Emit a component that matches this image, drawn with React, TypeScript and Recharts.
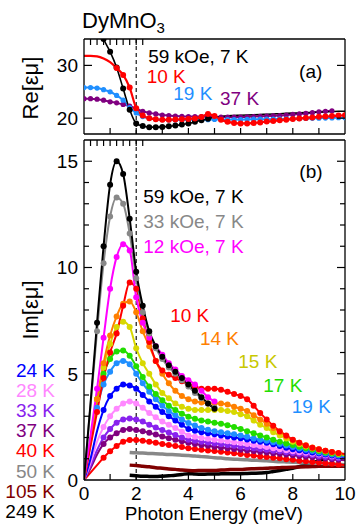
import React from 'react';
import { ComposedChart, Line, XAxis, YAxis, ReferenceLine, ReferenceDot } from 'recharts';

const FONT = '"Liberation Sans", Arial, Helvetica, sans-serif';

// Photon energy grid (meV)
const X_MEV = [0, 0.25, 0.5, 0.75, 1, 1.25, 1.5, 1.75, 2, 2.25, 2.5, 2.75, 3, 3.25, 3.5, 3.75, 4, 4.25, 4.5, 4.75, 5,
  5.25, 5.5, 5.75, 6, 6.25, 6.5, 6.75, 7, 7.25, 7.5, 7.75, 8, 8.25, 8.5, 8.75, 9, 9.25, 9.5, 9.75, 10];

// Panel (a): Re[εμ]
const RE_59KOE = [null, null, 38.5, 35.0, 32.6, 29.6, 25.6, 21.6, 19.0, 18.5, 18.3, 18.3, 18.35, 18.45, 18.6, 18.8, 19.0, 19.3, 19.6, 19.9, 20.2,
  20.35, 20.45, 20.5, 20.55, 20.6, 20.65, 20.7, 20.75, 20.8, 20.85, 20.9, 20.95, 21.0, 21.05, 21.1, 21.15, 21.2, 21.25, 21.3, 21.3];
const RE_10K = [31.8, 31.8, 31.7, 31.3, 30.6, 29.5, 28.2, 25.8, 21.9, 20.5, 20.0, 19.8, 19.7, 19.7, 19.75, 19.8, 19.85, 19.95, 20.2, 20.8, 20.4,
  19.7, 19.3, 19.1, 19.0, 19.0, 19.1, 19.2, 19.35, 19.45, 19.6, 19.7, 19.85, 19.95, 20.05, 20.15, 20.25, 20.3, 20.4, 20.5, 20.55];
const RE_19K = [25.8, 25.8, 25.7, 25.4, 25.0, 24.3, 23.4, 22.0, 21.0, 20.3, 20.0, 19.8, 19.7, 19.65, 19.65, 19.65, 19.7, 19.7, 19.7, 19.7, 19.75,
  19.75, 19.75, 19.75, 19.75, 19.78, 19.8, 19.8, 19.8, 19.82, 19.85, 19.87, 19.9, 19.92, 19.95, 19.97, 20.0, 20.02, 20.05, 20.08, 20.1];
const RE_37K = [23.7, 23.7, 23.6, 23.4, 23.1, 22.9, 22.6, 22.3, 21.8, 21.3, 21.0, 20.8, 20.6, 20.5, 20.4, 20.35, 20.3, 20.3, 20.3, 20.28, 20.25,
  20.22, 20.2, 20.2, 20.2, 20.25, 20.3, 20.35, 20.4, 20.45, 20.5, 20.6, 20.7, 20.8, 20.9, 21.05, 21.2, 21.3, 21.4, null, null];

// Panel (b): Im[εμ]
const IM_59KOE = [0, 3.6, 7.4, 11.0, 13.9, 15.0, 14.4, 12.3, 9.8, 8.2, 7.0, 6.3, 5.8, 5.4, 5.1, 4.8, 4.5, 4.2, 3.9, 3.6, 3.35,
  null, null, null, null, null, null, null, null, null, null, null, null, null, null, null, null, null, null, null, null];
const IM_33KOE = [0, 3.5, 7.0, 10.2, 12.4, 13.3, 13.0, 11.6, 9.5, 7.9, 6.9, 6.2, 5.7, 5.3, 5.0, 4.7, 4.4, 4.1, 3.85, 3.6, 3.4,
  null, null, null, null, null, null, null, null, null, null, null, null, null, null, null, null, null, null, null, null];
const IM_12KOE = [0, 2.1, 4.3, 6.7, 9.0, 10.5, 11.1, 10.8, 8.6, 7.4, 6.7, 6.3, 5.9, 5.5, 5.2, 4.9, 4.7, 4.5, 4.2, 3.9, 3.7,
  null, null, null, null, null, null, null, null, null, null, null, null, null, null, null, null, null, null, null, null];
const IM_10K = [0, 1.6, 3.2, 4.8, 6.0, 6.9, 8.2, 9.3, 9.0, 7.6, 6.5, 5.6, 5.15, 4.95, 4.8, 4.65, 4.5, 4.4, 4.3, 4.3, 4.3,
  4.25, 4.15, 4.05, 3.95, 3.8, 3.5, 3.15, 2.85, 2.55, 2.3, 2.1, 1.9, 1.75, 1.62, 1.52, 1.45, 1.38, 1.32, 1.27, 1.22];
const IM_14K = [0, 1.9, 3.8, 5.5, 6.8, 7.7, 8.3, 8.4, 7.9, 7.0, 6.3, 5.6, 5.0, 4.55, 4.2, 3.95, 3.8, 3.7, 3.65, 3.6, 3.6,
  3.6, 3.55, 3.45, 3.35, 3.25, 3.05, 2.85, 2.65, 2.45, 2.25, 2.05, 1.88, 1.75, 1.63, 1.53, 1.45, 1.38, 1.32, 1.26, 1.2];
const IM_15K = [0, 1.9, 3.8, 5.3, 6.4, 7.2, 7.45, 7.2, 6.2, 5.5, 5.0, 4.5, 4.1, 3.85, 3.6, 3.45, 3.35, 3.3, 3.3, 3.3, 3.3,
  3.3, 3.25, 3.2, 3.1, 3.0, 2.8, 2.6, 2.45, 2.25, 2.1, 1.95, 1.8, 1.68, 1.58, 1.5, 1.42, 1.35, 1.29, 1.23, 1.17];
const IM_17K = [0, 1.9, 3.8, 5.0, 5.7, 6.05, 6.1, 5.85, 5.35, 4.85, 4.4, 4.05, 3.75, 3.5, 3.3, 3.12, 2.98, 2.88, 2.8, 2.75, 2.7,
  2.65, 2.58, 2.5, 2.4, 2.3, 2.2, 2.1, 2.0, 1.9, 1.8, 1.72, 1.65, 1.57, 1.5, 1.43, 1.37, 1.3, 1.25, 1.2, 1.15];
const IM_19K = [0, 1.7, 3.4, 4.5, 5.1, 5.5, 5.6, 5.45, 5.0, 4.55, 4.15, 3.8, 3.5, 3.25, 3.05, 2.85, 2.68, 2.56, 2.45, 2.37, 2.3,
  2.25, 2.2, 2.15, 2.1, 2.03, 1.95, 1.9, 1.85, 1.78, 1.7, 1.62, 1.55, 1.48, 1.42, 1.36, 1.3, 1.25, 1.2, 1.15, 1.1];
const IM_24K = [0, 1.0, 2.3, 3.3, 3.95, 4.3, 4.5, 4.45, 4.3, 4.0, 3.7, 3.45, 3.2, 3.0, 2.8, 2.6, 2.4, 2.32, 2.25, 2.2, 2.15,
  2.1, 2.05, 2.0, 1.97, 1.91, 1.85, 1.8, 1.75, 1.68, 1.6, 1.52, 1.45, 1.4, 1.35, 1.3, 1.25, 1.2, 1.15, 1.11, 1.08];
const IM_28K = [0, 0.8, 1.8, 2.5, 3.0, 3.35, 3.6, 3.7, 3.6, 3.4, 3.15, 2.95, 2.75, 2.6, 2.45, 2.27, 2.1, 2.04, 1.98, 1.94, 1.9,
  1.86, 1.82, 1.78, 1.74, 1.7, 1.65, 1.6, 1.55, 1.5, 1.45, 1.4, 1.35, 1.31, 1.28, 1.24, 1.2, 1.16, 1.12, 1.08, 1.05];
const IM_33K = [0, 0.65, 1.4, 2.0, 2.4, 2.7, 2.85, 2.9, 2.85, 2.75, 2.6, 2.47, 2.35, 2.23, 2.12, 2.0, 1.9, 1.85, 1.8, 1.76, 1.72,
  1.68, 1.65, 1.61, 1.57, 1.53, 1.5, 1.46, 1.42, 1.38, 1.35, 1.31, 1.27, 1.23, 1.2, 1.16, 1.12, 1.08, 1.05, 1.02, 1.0];
const IM_37K = [0, 0.55, 1.2, 1.7, 2.0, 2.2, 2.35, 2.4, 2.35, 2.3, 2.22, 2.14, 2.05, 1.97, 1.9, 1.82, 1.75, 1.7, 1.65, 1.61, 1.57,
  1.53, 1.5, 1.46, 1.42, 1.39, 1.36, 1.33, 1.3, 1.26, 1.23, 1.2, 1.17, 1.13, 1.1, 1.07, 1.04, 1.01, 0.98, 0.95, 0.93];
const IM_40K = [0, 0.35, 0.7, 1.05, 1.35, 1.6, 1.8, 1.88, 1.88, 1.85, 1.8, 1.75, 1.7, 1.65, 1.6, 1.55, 1.5, 1.46, 1.42, 1.39, 1.36,
  1.33, 1.3, 1.26, 1.22, 1.18, 1.15, 1.11, 1.08, 1.05, 1.02, 0.98, 0.95, 0.91, 0.88, 0.85, 0.82, 0.79, 0.76, 0.73, 0.7];
const IM_50K = [null, null, null, null, null, null, null, 1.3, 1.28, 1.27, 1.25, 1.24, 1.22, 1.2, 1.19, 1.17, 1.15, 1.13, 1.1, 1.08, 1.05,
  1.03, 1.0, 0.98, 0.97, 0.95, 0.93, 0.92, 0.9, 0.88, 0.86, 0.85, 0.84, 0.82, 0.81, 0.8, 0.79, 0.78, 0.76, 0.74, 0.72];
const IM_105K = [null, null, null, null, null, null, null, 0.7, 0.68, 0.65, 0.62, 0.58, 0.55, 0.52, 0.5, 0.47, 0.45, 0.44, 0.45, 0.45, 0.45,
  0.47, 0.48, 0.5, 0.5, 0.52, 0.53, 0.54, 0.55, 0.57, 0.58, 0.59, 0.6, 0.61, 0.62, 0.63, 0.65, 0.65, 0.65, 0.65, 0.65];
const IM_249K = [null, null, null, null, null, null, null, 0.22, 0.2, 0.18, 0.17, 0.16, 0.18, 0.2, 0.22, 0.26, 0.3, 0.28, 0.27, 0.28, 0.28,
  0.29, 0.3, 0.3, 0.3, 0.31, 0.32, 0.33, 0.35, 0.4, 0.45, 0.5, 0.55, 0.63, 0.7, 0.8, 0.9, 1.0, 1.1, null, null];

// Ticks
const X_TICKS = [0, 1, 2, 3, 4, 5, 6, 7, 8, 9, 10];
const X_LABELS = [0, 2, 4, 6, 8, 10];
const RE_TICKS = [20, 30];
const IM_TICKS = [0, 1, 2, 3, 4, 5, 6, 7, 8, 9, 10, 11, 12, 13, 14, 15, 16];
const IM_MAJOR = [0, 5, 10, 15];

// Annotations (data coordinates)
const ANN_A = [
  { text: '59 kOe, 7 K', x: 2.46, y: 31.67, color: '#000000' },
  { text: '10 K', x: 2.4, y: 27.95, color: '#ff0000' },
  { text: '19 K', x: 3.42, y: 24.71, color: '#1f8fff' },
  { text: '37 K', x: 5.21, y: 23.76, color: '#800080' },
  { text: '(a)', x: 8.24, y: 28.88, color: '#000000' },
];
const ANN_B = [
  { text: '(b)', x: 8.25, y: 14.53, color: '#000000' },
  { text: '59 kOe, 7 K', x: 2.27, y: 13.34, color: '#000000' },
  { text: '33 kOe, 7 K', x: 2.27, y: 12.16, color: '#888888' },
  { text: '12 kOe, 7 K', x: 2.27, y: 10.98, color: '#ff00ff' },
  { text: '10 K', x: 3.3, y: 7.76, color: '#ff0000' },
  { text: '14 K', x: 4.44, y: 6.67, color: '#ff8000' },
  { text: '15 K', x: 5.91, y: 5.57, color: '#c8c800' },
  { text: '17 K', x: 6.87, y: 4.47, color: '#22dd00' },
  { text: '19 K', x: 7.96, y: 3.45, color: '#1f8fff' },
];
const LEFT_LEGEND = [
  { text: '24 K', color: '#0000ff' },
  { text: '28 K', color: '#ff88ff' },
  { text: '33 K', color: '#8822ee' },
  { text: '37 K', color: '#800080' },
  { text: '40 K', color: '#ff0000' },
  { text: '50 K', color: '#888888' },
  { text: '105 K', color: '#800000' },
  { text: '249 K', color: '#000000' },
];

type Series = { key: string; data: (number | null)[]; color: string; width: number; dot?: [number, number]; r?: number };

const SERIES_A: Series[] = [
  { key: 're37', data: RE_37K, color: '#800080', width: 2, dot: [0, 9.5], r: 2.6 },
  { key: 're19', data: RE_19K, color: '#1f8fff', width: 2, dot: [0, 10], r: 2.6 },
  { key: 're59', data: RE_59KOE, color: '#000000', width: 1.6, dot: [0.75, 4.75], r: 3 },
  { key: 're10', data: RE_10K, color: '#ff0000', width: 2.2, dot: [1.25, 10], r: 3 },
];

const SERIES_B: Series[] = [
  { key: 'i249', data: IM_249K, color: '#000000', width: 3.5 },
  { key: 'i105', data: IM_105K, color: '#800000', width: 3.5 },
  { key: 'i50', data: IM_50K, color: '#888888', width: 3.5 },
  { key: 'i40', data: IM_40K, color: '#ff0000', width: 2, dot: [0.75, 9.75], r: 3 },
  { key: 'i37', data: IM_37K, color: '#800080', width: 2, dot: [0.75, 9.75], r: 3 },
  { key: 'i33', data: IM_33K, color: '#8822ee', width: 2, dot: [0.75, 9.75], r: 3 },
  { key: 'i28', data: IM_28K, color: '#ff88ff', width: 2, dot: [0.75, 9.75], r: 3 },
  { key: 'i24', data: IM_24K, color: '#0000ff', width: 2, dot: [0.75, 9.75], r: 3 },
  { key: 'i19', data: IM_19K, color: '#1f8fff', width: 2, dot: [0.5, 9.75], r: 3 },
  { key: 'i17', data: IM_17K, color: '#22dd00', width: 2, dot: [0.5, 9.75], r: 3 },
  { key: 'i15', data: IM_15K, color: '#d8d800', width: 2, dot: [0.5, 9.75], r: 3 },
  { key: 'i14', data: IM_14K, color: '#ff8000', width: 2, dot: [0.5, 9.75], r: 3 },
  { key: 'i10', data: IM_10K, color: '#ff0000', width: 2, dot: [0.5, 9.75], r: 3 },
  { key: 'i12k', data: IM_12KOE, color: '#ff00ff', width: 2, dot: [0.5, 5], r: 3 },
  { key: 'i33k', data: IM_33KOE, color: '#888888', width: 2, dot: [0.5, 5], r: 3 },
  { key: 'i59k', data: IM_59KOE, color: '#000000', width: 2, dot: [0.5, 5], r: 3 },
];

const buildRows = (series: Series[]) =>
  X_MEV.map((x, i) => {
    const row: Record<string, number | null> = { x };
    series.forEach((s) => {
      row[s.key] = s.data[i];
    });
    return row;
  });

const ROWS_A = buildRows(SERIES_A);
const ROWS_B = buildRows(SERIES_B);

const AXIS_LINE = { stroke: '#000', strokeWidth: 1.3 };

const makeXTick = (dir: number, withLabels: boolean) => (p: any) => {
  const { x, y, payload } = p;
  const v = Number(payload?.value);
  return (
    <g>
      {v > 0 && v < 10 ? <line x1={x} x2={x} y1={y} y2={y + dir * 6} stroke="#000" strokeWidth={1.2} /> : null}
      {withLabels && X_LABELS.includes(v) ? (
        <text x={x} y={y + 20} textAnchor="middle" fontSize={19} fontFamily={FONT} fill="#000">
          {v}
        </text>
      ) : null}
    </g>
  );
};

const makeYTick = (dir: number, majors: number[], labels: number[], lo: number, hi: number) => (p: any) => {
  const { x, y, payload } = p;
  const v = Number(payload?.value);
  const len = majors.includes(v) ? 8 : 5;
  return (
    <g>
      {v > lo && v < hi ? <line x1={x} x2={x + dir * len} y1={y} y2={y} stroke="#000" strokeWidth={1.2} /> : null}
      {labels.includes(v) ? (
        <text x={x - 6} y={y} dy="0.36em" textAnchor="end" fontSize={19} fontFamily={FONT} fill="#000">
          {v}
        </text>
      ) : null}
    </g>
  );
};

const makeDot = (color: string, range: [number, number], r: number) => (p: any) => {
  const k = `d${p.index}`;
  const xv = p.payload ? p.payload.x : null;
  if (p.value == null || p.cy == null || p.cx == null || xv == null || xv < range[0] || xv > range[1]) return <g key={k} />;
  return <circle key={k} cx={p.cx} cy={p.cy} r={r} fill={color} stroke="none" />;
};

const renderSeries = (series: Series[]) =>
  series.map((s) => (
    <Line
      key={s.key}
      type="monotone"
      dataKey={s.key}
      stroke={s.color}
      strokeWidth={s.width}
      dot={s.dot ? makeDot(s.color, s.dot, s.r ?? 3) : false}
      activeDot={false}
      connectNulls={false}
      isAnimationActive={false}
      legendType="none"
    />
  ));

const renderAnn = (anns: { text: string; x: number; y: number; color: string }[]) =>
  anns.map((a) => (
    <ReferenceDot
      key={a.text + a.x}
      x={a.x}
      y={a.y}
      r={0}
      fill="none"
      stroke="none"
      label={{ value: a.text, position: 'right', offset: 0, fill: a.color, fontSize: 19, fontFamily: FONT }}
    />
  ));

export default function App() {
  return (
    <div style={{ position: 'absolute', left: 0, top: 0, width: 357, height: 530, background: '#fff', fontFamily: FONT }}>
      <div style={{ position: 'absolute', left: 0, top: 0 }}>
        <ComposedChart width={357} height={530} data={ROWS_B} margin={{ top: 139, right: 11, bottom: 49, left: 0 }}>
          <XAxis dataKey="x" type="number" domain={[0, 10]} ticks={X_TICKS} interval={0} height={1} tickSize={0} tickMargin={0}
            tickLine={false} axisLine={AXIS_LINE} tick={makeXTick(-1, true)} allowDataOverflow />
          <XAxis xAxisId="top" orientation="top" type="number" domain={[0, 10]} ticks={X_TICKS} interval={0} height={1} tickSize={0}
            tickMargin={0} tickLine={false} axisLine={AXIS_LINE} tick={makeXTick(1, false)} allowDataOverflow />
          <YAxis type="number" domain={[0, 16]} ticks={IM_TICKS} interval={0} width={84} tickSize={0} tickMargin={0}
            tickLine={false} axisLine={AXIS_LINE} tick={makeYTick(1, IM_MAJOR, IM_MAJOR, 0, 16)} allowDataOverflow />
          <YAxis yAxisId="right" orientation="right" type="number" domain={[0, 16]} ticks={IM_TICKS} interval={0} width={1}
            tickSize={0} tickMargin={0} tickLine={false} axisLine={AXIS_LINE} tick={makeYTick(-1, IM_MAJOR, [], 0, 16)} allowDataOverflow />
          <ReferenceLine x={2} stroke="#000" strokeWidth={1.1} strokeDasharray="4 3" />
          {renderSeries(SERIES_B)}
          {renderAnn(ANN_B)}
        </ComposedChart>
      </div>
      <div style={{ position: 'absolute', left: 0, top: 0 }}>
        <ComposedChart width={357} height={140} data={ROWS_A} margin={{ top: 38, right: 11, bottom: 5, left: 0 }}>
          <XAxis dataKey="x" type="number" domain={[0, 10]} ticks={X_TICKS} interval={0} height={1} tickSize={0} tickMargin={0}
            tickLine={false} axisLine={AXIS_LINE} tick={makeXTick(-1, false)} allowDataOverflow />
          <XAxis xAxisId="top" orientation="top" type="number" domain={[0, 10]} ticks={X_TICKS} interval={0} height={1} tickSize={0}
            tickMargin={0} tickLine={false} axisLine={AXIS_LINE} tick={makeXTick(1, false)} allowDataOverflow />
          <YAxis type="number" domain={[17, 35]} ticks={RE_TICKS} interval={0} width={84} tickSize={0} tickMargin={0}
            tickLine={false} axisLine={AXIS_LINE} tick={makeYTick(1, RE_TICKS, RE_TICKS, 17, 35)} allowDataOverflow />
          <YAxis yAxisId="right" orientation="right" type="number" domain={[17, 35]} ticks={RE_TICKS} interval={0} width={1}
            tickSize={0} tickMargin={0} tickLine={false} axisLine={AXIS_LINE} tick={makeYTick(-1, RE_TICKS, [], 17, 35)} allowDataOverflow />
          <ReferenceLine x={2} stroke="#000" strokeWidth={1.1} strokeDasharray="4 3" />
          {renderSeries(SERIES_A)}
          {renderAnn(ANN_A)}
        </ComposedChart>
      </div>
      <svg width={357} height={530} style={{ position: 'absolute', left: 0, top: 0, pointerEvents: 'none' }}>
        <text x={82} y={28} fontSize={22} fontFamily={FONT} fill="#000">
          DyMnO<tspan fontSize={15} dy={5}>3</tspan>
        </text>
        <text transform="translate(38,88) rotate(-90)" textAnchor="middle" fontSize={22} fontFamily={FONT} fill="#000">
          Re[εμ]
        </text>
        <text transform="translate(38,310) rotate(-90)" textAnchor="middle" fontSize={22} fontFamily={FONT} fill="#000">
          Im[εμ]
        </text>
        <text x={214} y={520} textAnchor="middle" fontSize={18.5} fontFamily={FONT} fill="#000">
          Photon Energy (meV)
        </text>
        {LEFT_LEGEND.map((l, i) => (
          <text key={l.text} x={55} y={377 + i * 20.1} textAnchor="end" fontSize={19} fontFamily={FONT} fill={l.color}>
            {l.text}
          </text>
        ))}
      </svg>
    </div>
  );
}
